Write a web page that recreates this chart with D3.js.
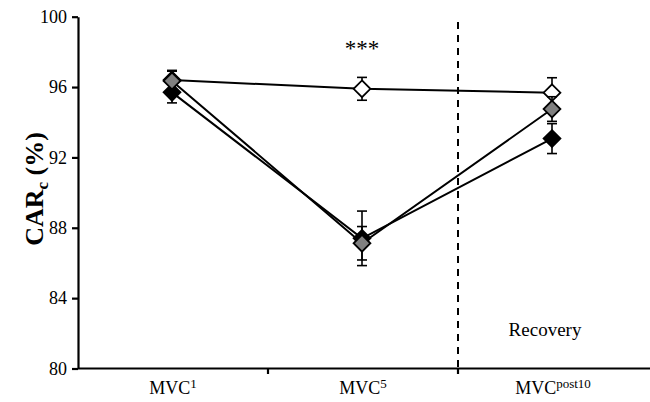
<!DOCTYPE html>
<html><head><meta charset="utf-8">
<script src="https://cdn.jsdelivr.net/npm/d3@7"></script>
<style>body{margin:0;background:#fff}svg{display:block}</style>
</head><body><svg id="c" width="650" height="402"></svg>
<script>
const categories = ["MVC1", "MVC5", "MVCpost10"];
const catBase = ["MVC", "MVC", "MVC"];
const catSup = ["1", "5", "post10"];
const yTicks = [80, 84, 88, 92, 96, 100];
const seriesNames = ["open", "black", "gray"];
const openVals = [96.4, 95.9, 95.68];
const openErr = [0.5, 0.65, 0.85];
const blackVals = [95.7, 87.4, 93.07];
const blackErr = [0.6, 1.55, 0.85];
const grayVals = [96.35, 87.12, 94.75];
const grayErr = [0.6, 0.95, 0.7];
const fills = {open: "#ffffff", black: "#000000", gray: "#808080"};
const FONT = "'Liberation Serif', 'Times New Roman', 'DejaVu Serif', serif";

const svg = d3.select("#c").style("font-family", FONT);
const x = d3.scaleBand().domain(categories).range([78, 648]);
const y = d3.scaleLinear().domain([80, 100]).range([368.5, 16.7]);

// y axis
const yAx = svg.append("g").attr("transform", "translate(78,0)")
  .call(d3.axisLeft(y).tickValues(yTicks).tickSize(6).tickSizeOuter(0));
yAx.attr("font-family", null).style("font-family", FONT);
yAx.select(".domain").attr("stroke", "#000").attr("stroke-width", 2.2);
yAx.selectAll(".tick line").attr("stroke-width", 2.2);
yAx.selectAll(".tick text").attr("font-size", 18).style("font-family", FONT).attr("x", -11);

// x axis
const xAx = svg.append("g").attr("transform", "translate(0,368.5)")
  .call(d3.axisBottom(x).tickSize(0).tickFormat(""));
xAx.select(".domain").attr("stroke", "#000").attr("stroke-width", 2.2).attr("d", "M78,0H650");
// boundary ticks between categories
svg.append("g").selectAll("line").data(categories.slice(1)).join("line")
  .attr("x1", d => x(d)).attr("x2", d => x(d)).attr("y1", 368).attr("y2", 374)
  .attr("stroke", "#000").attr("stroke-width", 2.2);

// category labels
const lab = svg.append("g").selectAll("text").data(categories).join("text")
  .attr("x", d => x(d) + x.bandwidth() / 2).attr("y", 394)
  .attr("text-anchor", "middle").attr("font-size", 18).style("font-family", FONT);
lab.append("tspan").text((d, i) => catBase[i]);
lab.append("tspan").attr("dy", -6).attr("font-size", 13).text((d, i) => catSup[i]);

// dashed recovery line
svg.append("line").attr("x1", x(categories[2])).attr("x2", x(categories[2]))
  .attr("y1", 22).attr("y2", 368).attr("stroke", "#000").attr("stroke-width", 2)
  .attr("stroke-dasharray", "7,6");

// y label
svg.append("text").attr("transform", "translate(43,189) rotate(-90)")
  .attr("text-anchor", "middle").attr("font-size", 26).attr("font-weight", "bold").style("font-family", FONT)
  .call(t => { t.append("tspan").text("CAR");
               t.append("tspan").attr("font-size", 17).attr("dy", 5).text("c");
               t.append("tspan").attr("dy", -5).text(" (%)"); });

// stars and recovery text
svg.append("text").attr("x", x(categories[1]) + x.bandwidth()/2 - 1).attr("y", 56)
  .attr("text-anchor", "middle").attr("font-size", 23).style("font-family", FONT).text("***");
svg.append("text").attr("x", x(categories[2]) + x.bandwidth()/2 - 8).attr("y", 336)
  .attr("text-anchor", "middle").attr("font-size", 19).style("font-family", FONT).text("Recovery");

const series = [
  {name: "open", vals: openVals, err: openErr},
  {name: "black", vals: blackVals, err: blackErr},
  {name: "gray", vals: grayVals, err: grayErr}
];
const cx = i => x(categories[i]) + x.bandwidth() / 2 - 1;
const line = d3.line().x((d, i) => cx(i)).y(d => y(d));

series.forEach(s => {
  const g = svg.append("g");
  g.append("path").attr("d", line(s.vals)).attr("fill", "none").attr("stroke", "#000").attr("stroke-width", 2);
  s.vals.forEach((v, i) => {
    const e = s.err[i];
    const px = cx(i);
    g.append("line").attr("x1", px).attr("x2", px).attr("y1", y(v + e)).attr("y2", y(v - e)).attr("stroke", "#000").attr("stroke-width", 1.6);
    [v + e, v - e].forEach(w => g.append("line").attr("x1", px - 5).attr("x2", px + 5).attr("y1", y(w)).attr("y2", y(w)).attr("stroke", "#000").attr("stroke-width", 1.6));
  });
  g.selectAll("path.m").data(s.vals).join("path").attr("class", "m")
    .attr("d", d3.symbol(d3.symbolDiamond2, 180)())
    .attr("transform", (d, i) => `translate(${cx(i)},${y(d)})`)
    .attr("fill", fills[s.name]).attr("stroke", "#000").attr("stroke-width", 1.8);
});
</script></body></html>
